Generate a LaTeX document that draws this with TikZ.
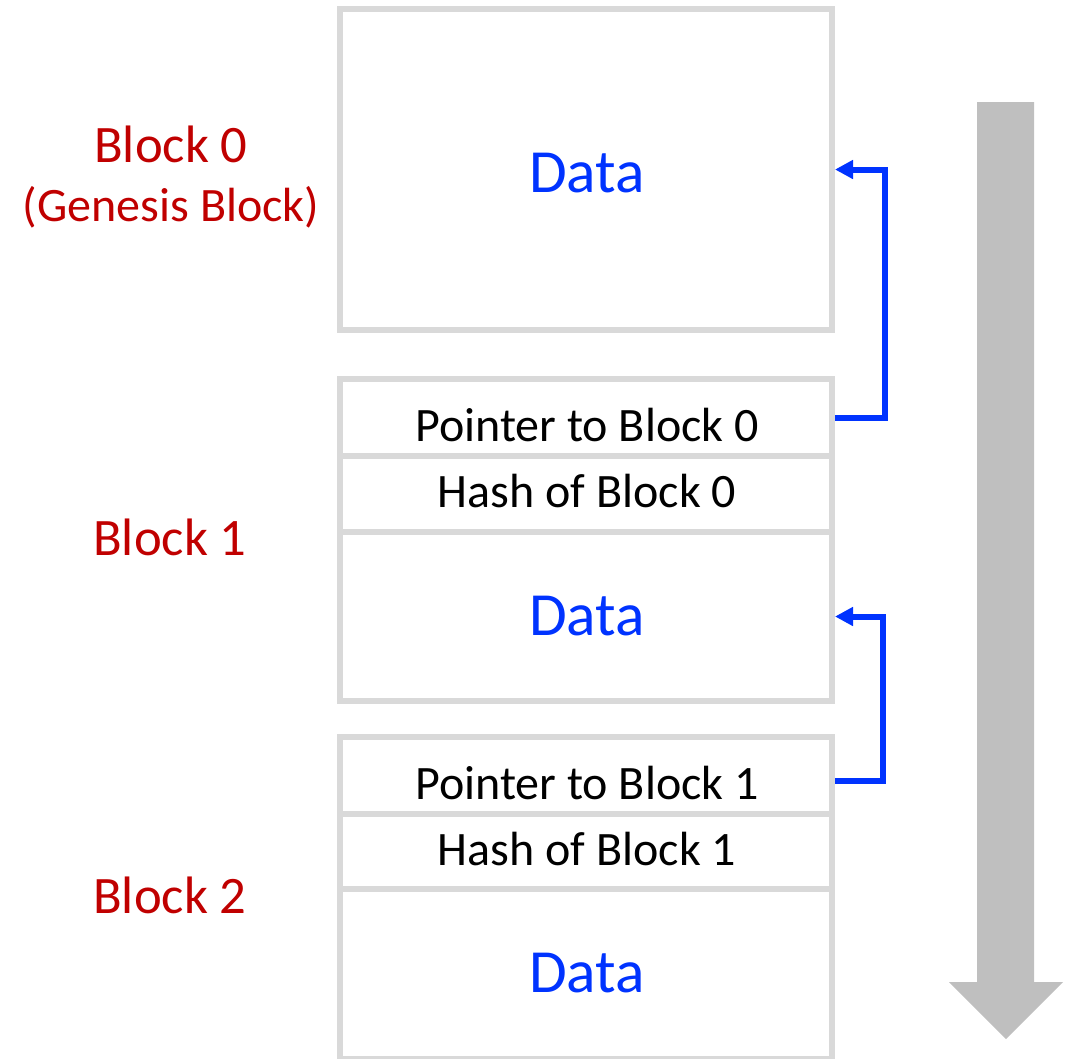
\documentclass[tikz,border=0pt]{standalone}
\usepackage{fontspec}
\setmainfont{Carlito}
\usetikzlibrary{fit,arrows.meta}
\definecolor{cellgray}{HTML}{D9D9D9}
\definecolor{flowgray}{HTML}{BFBFBF}
\definecolor{blockred}{HTML}{C00000}
\definecolor{datablue}{RGB}{0,51,255}
\tikzset{
  cell/.style={draw=cellgray, line width=4.5pt, inner sep=0pt},
  blocklabel/.style={text=blockred, font=\fontsize{39.5}{44}\selectfont, anchor=base, inner sep=0pt},
  sublabel/.style={text=blockred, font=\fontsize{36}{42}\selectfont, anchor=base, inner sep=0pt},
  fieldtext/.style={text=black, font=\fontsize{36}{42}\selectfont, anchor=base, inner sep=0pt},
  datatext/.style={text=datablue, font=\fontsize{46}{52}\selectfont, anchor=base, inner sep=0pt},
  link/.style={draw=datablue, line width=4.5pt, -{Triangle[length=13.5pt,width=13.5pt]}},
}
\begin{document}
\begin{tikzpicture}[x=0.75pt,y=-0.75pt]
\useasboundingbox (0,0) rectangle (1068,1058);

% chain direction arrow
\fill[flowgray] (977,102) -- (1034,102) -- (1034,982) -- (1063,982)
  -- (1006,1039) -- (949,982) -- (977,982) -- cycle;

% block 0
\node[cell, fit={(340,9)(832,330)}] (b0) {};
% block 1
\node[cell, fit={(340,379)(832,456)}] (b1p) {};
\node[cell, fit={(340,456)(832,532)}] (b1h) {};
\node[cell, fit={(340,532)(832,701)}] (b1d) {};
% block 2
\node[cell, fit={(340,737)(832,814)}] (b2p) {};
\node[cell, fit={(340,814)(832,889)}] (b2h) {};
\node[cell, fit={(340,889)(832,1059)}] (b2d) {};

% cell texts
\node[datatext] (t0d) at (587,192) {Data};
\node[fieldtext] (t1p) at (587,441) {Pointer to Block 0};
\node[fieldtext] (t1h) at (587,507) {Hash of Block 0};
\node[datatext] (t1d) at (587,635) {Data};
\node[fieldtext] (t2p) at (587,799) {Pointer to Block 1};
\node[fieldtext] (t2h) at (587,865) {Hash of Block 1};
\node[datatext] (t2d) at (587,992) {Data};

% block names
\node[blocklabel] (l0) at (171,162) {Block 0};
\node[sublabel] (l0g) at (171,221) {(Genesis Block)};
\node[blocklabel] (l1) at (170,555) {Block 1};
\node[blocklabel] (l2) at (170,913) {Block 2};

% back pointers
\draw[link] (b1p.east) -- ++(50,0) |- (b0.east);
\draw[link] ([yshift=-4pt]b2p.east) -- ++(48,0) |- (b1d.east);
\end{tikzpicture}
\end{document}
